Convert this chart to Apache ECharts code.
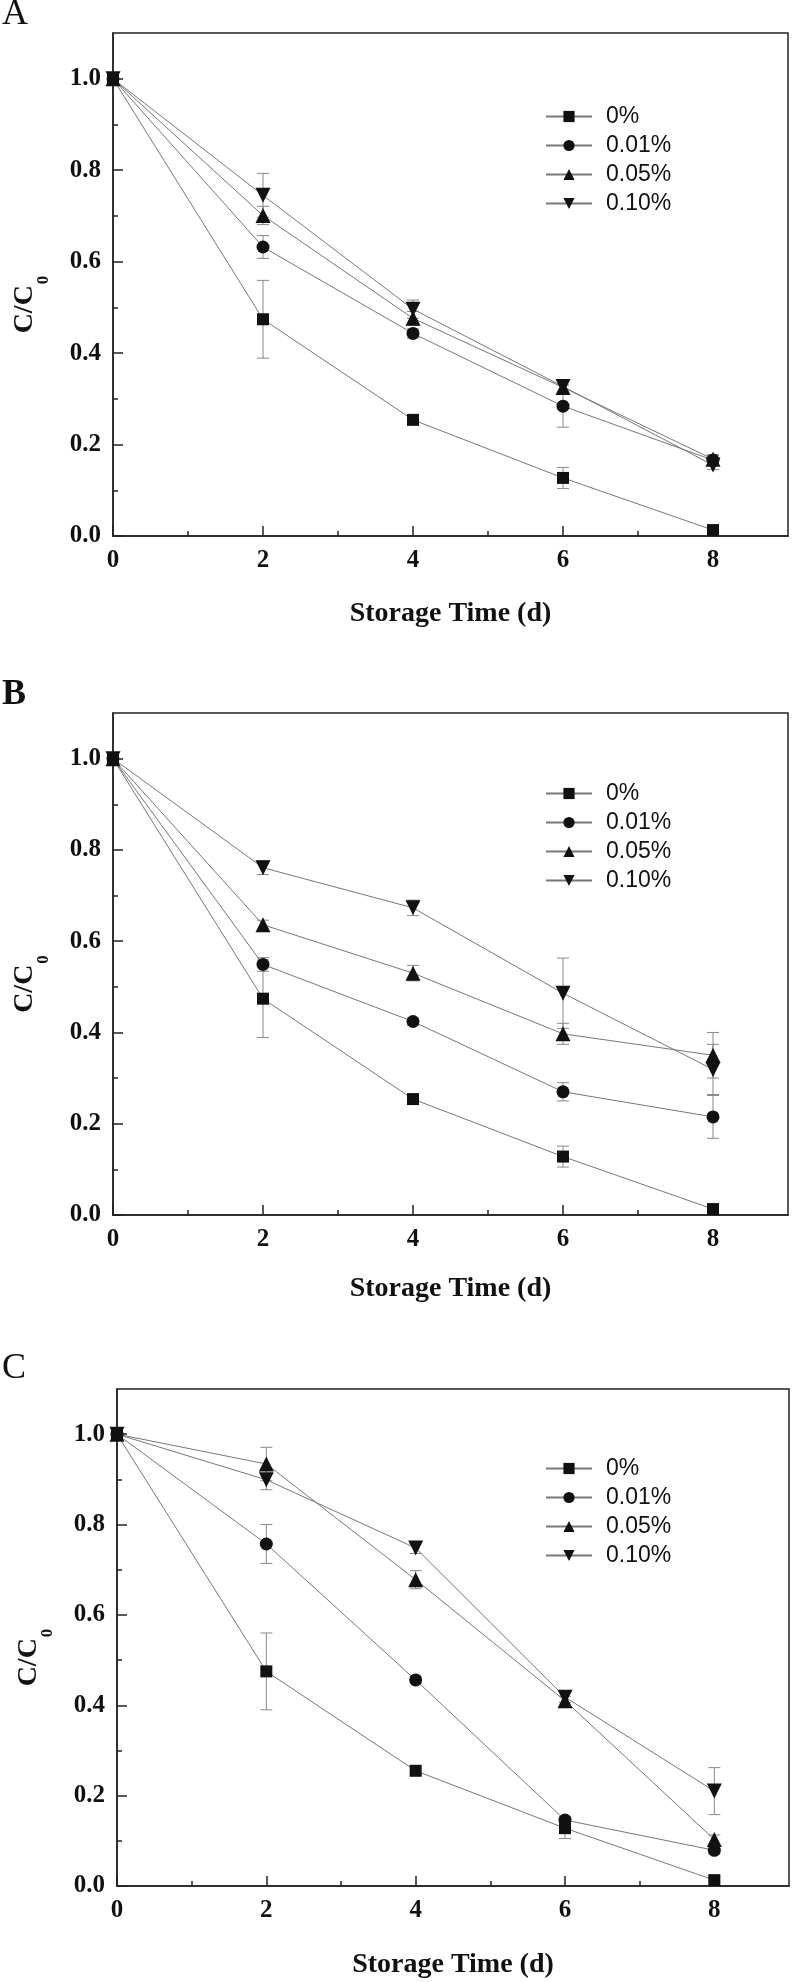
<!DOCTYPE html>
<html>
<head>
<meta charset="utf-8">
<script src="https://cdn.jsdelivr.net/npm/echarts@6/dist/echarts.min.js"></script>
<style>
html,body{margin:0;padding:0;background:#fff;}
#chart{width:792px;height:1982px;}
</style>
</head>
<body>
<div id="chart"></div>
<script>
// ---- data ----
const days = [0, 2, 4, 6, 8];
const seriesNames = ['0%', '0.01%', '0.05%', '0.10%'];
const panelLabels = ['A', 'B', 'C'];
const xTickValues = [0, 2, 4, 6, 8];
const xMinorTicks = [1, 3, 5, 7];
const yTickValues = [0, 0.2, 0.4, 0.6, 0.8, 1.0];
const yMinorTicks = [0.1, 0.3, 0.5, 0.7, 0.9];

// Panel A
const a0 = [1.0, 0.474, 0.254, 0.127, 0.013];
const a0Err = [0.005, 0.085, 0.01, 0.023, 0.005];
const a001 = [1.0, 0.632, 0.443, 0.284, 0.166];
const a001Err = [0.005, 0.025, 0.01, 0.046, 0.01];
const a005 = [1.0, 0.701, 0.476, 0.325, 0.168];
const a005Err = [0.005, 0.02, 0.015, 0.012, 0.01];
const a010 = [1.0, 0.745, 0.496, 0.327, 0.155];
const a010Err = [0.005, 0.048, 0.02, 0.012, 0.01];

// Panel B
const b0 = [1.0, 0.474, 0.254, 0.128, 0.013];
const b0Err = [0.005, 0.085, 0.01, 0.023, 0.005];
const b001 = [1.0, 0.549, 0.424, 0.270, 0.215];
const b001Err = [0.005, 0.015, 0.008, 0.02, 0.047];
const b005 = [1.0, 0.636, 0.530, 0.397, 0.350];
const b005Err = [0.005, 0.01, 0.017, 0.023, 0.05];
const b010 = [1.0, 0.761, 0.673, 0.486, 0.319];
const b010Err = [0.005, 0.015, 0.017, 0.077, 0.055];

// Panel C
const c0 = [1.0, 0.475, 0.255, 0.128, 0.013];
const c0Err = [0.005, 0.085, 0.01, 0.023, 0.005];
const c001 = [1.0, 0.757, 0.456, 0.146, 0.079];
const c001Err = [0.005, 0.043, 0.008, 0.008, 0.008];
const c005 = [1.0, 0.934, 0.678, 0.410, 0.103];
const c005Err = [0.005, 0.037, 0.02, 0.01, 0.01];
const c010 = [1.0, 0.899, 0.748, 0.418, 0.210];
const c010Err = [0.005, 0.022, 0.012, 0.012, 0.052];

const panels = [
  {vals: [a0, a001, a005, a010], errs: [a0Err, a001Err, a005Err, a010Err]},
  {vals: [b0, b001, b005, b010], errs: [b0Err, b001Err, b005Err, b010Err]},
  {vals: [c0, c001, c005, c010], errs: [c0Err, c001Err, c005Err, c010Err]}
];

// ---- layout / style ----
const grids = [
  {left: 113, top: 33, width: 675, height: 503},
  {left: 113, top: 713, width: 675, height: 502},
  {left: 117, top: 1389, width: 672, height: 497}
];
const xNameGaps = [64, 60, 65];
const legendTops = [100, 777, 1452];
const labelYs = [15, 695, 1369];
const labelWeights = ['normal', 'bold', 'normal'];

const SERIF = '"Liberation Serif", "Times New Roman", serif';
const SANS = '"Liberation Sans", Arial, sans-serif';
const symbols = ['rect', 'circle', 'triangle', 'path://M0,0 L10,0 L5,9 Z'];
const symbolSizes = [12, 13, 15, 15];

const option = {
  backgroundColor: '#fff',
  animation: false,
  grid: [], xAxis: [], yAxis: [], series: [], legend: [], graphic: []
};

function errRender(params, api) {
  const x = api.value(0), lo = api.value(1), hi = api.value(2);
  const pl = api.coord([x, lo]);
  const ph = api.coord([x, hi]);
  const w = 6;
  const st = {stroke: '#888', lineWidth: 1};
  return {
    type: 'group',
    children: [
      {type: 'line', shape: {x1: pl[0], y1: pl[1], x2: ph[0], y2: ph[1]}, style: st},
      {type: 'line', shape: {x1: pl[0] - w, y1: pl[1], x2: pl[0] + w, y2: pl[1]}, style: st},
      {type: 'line', shape: {x1: ph[0] - w, y1: ph[1], x2: ph[0] + w, y2: ph[1]}, style: st}
    ]
  };
}

panels.forEach((p, i) => {
  option.grid.push(Object.assign({show: true, borderColor: '#222', borderWidth: 1.5}, grids[i]));
  const labelStyle = {fontFamily: SERIF, fontWeight: 'bold', fontSize: 25, color: '#111'};
  // main x
  option.xAxis.push({
    type: 'value', gridIndex: i, position: 'bottom', min: 0, max: 9, interval: 2,
    axisLine: {show: true, lineStyle: {color: '#222', width: 1.5}},
    axisTick: {show: true, inside: true, length: 10, customValues: xTickValues, lineStyle: {color: '#222', width: 1.5}},
    axisLabel: Object.assign({customValues: xTickValues, margin: 12}, labelStyle),
    splitLine: {show: false},
    name: 'Storage Time (d)', nameLocation: 'middle', nameGap: xNameGaps[i],
    nameTextStyle: {fontFamily: SERIF, fontWeight: 'bold', fontSize: 28, color: '#111'}
  });
  // minor x
  option.xAxis.push({
    type: 'value', gridIndex: i, position: 'bottom', min: 0, max: 9, interval: 1,
    axisLine: {show: false},
    axisTick: {show: true, inside: true, length: 5, customValues: xMinorTicks, lineStyle: {color: '#222', width: 1.5}},
    axisLabel: {show: false},
    splitLine: {show: false}
  });
  // main y
  option.yAxis.push({
    type: 'value', gridIndex: i, position: 'left', min: 0, max: 1.1, interval: 0.2,
    axisLine: {show: true, lineStyle: {color: '#222', width: 1.5}},
    axisTick: {show: true, inside: true, length: 10, customValues: yTickValues, lineStyle: {color: '#222', width: 1.5}},
    axisLabel: Object.assign({customValues: yTickValues, margin: 12, formatter: v => v.toFixed(1)}, labelStyle),
    splitLine: {show: false},
    name: '{a|C/C}{b|0}', nameLocation: 'middle', nameGap: 74, nameRotate: 90,
    nameTextStyle: {
      padding: [0, 40, 0, 0],
      rich: {
        a: {fontFamily: SERIF, fontWeight: 'bold', fontSize: 28, lineHeight: 28, color: '#111', verticalAlign: 'top'},
        b: {fontFamily: SERIF, fontWeight: 'bold', fontSize: 17, lineHeight: 16, color: '#111', verticalAlign: 'top', padding: [24, 0, 0, 1]}
      }
    }
  });
  // minor y
  option.yAxis.push({
    type: 'value', gridIndex: i, position: 'left', min: 0, max: 1.1, interval: 0.1,
    axisLine: {show: false},
    axisTick: {show: true, inside: true, length: 5, customValues: yMinorTicks, lineStyle: {color: '#222', width: 1.5}},
    axisLabel: {show: false},
    splitLine: {show: false}
  });

  p.vals.forEach((vals, k) => {
    const errs = p.errs[k];
    option.series.push({
      type: 'custom', name: 'err' + i + '_' + k,
      xAxisIndex: 2 * i, yAxisIndex: 2 * i, z: 1,
      renderItem: errRender,
      encode: {x: 0, y: [1, 2]},
      data: days.map((d, j) => [d, vals[j] - errs[j], vals[j] + errs[j]])
    });
  });
  p.vals.forEach((vals, k) => {
    option.series.push({
      type: 'line', name: seriesNames[k],
      xAxisIndex: 2 * i, yAxisIndex: 2 * i, z: 3,
      symbol: symbols[k], symbolSize: symbolSizes[k],
      showAllSymbol: true,
      lineStyle: {color: '#777', width: 1},
      itemStyle: {color: '#111'},
      data: days.map((d, j) => [d, vals[j]])
    });
  });

  option.legend.push({
    data: seriesNames, orient: 'vertical', left: 540, top: legendTops[i],
    itemWidth: 46, itemHeight: 14, itemGap: 6,
    textStyle: {fontFamily: SANS, fontSize: 23, color: '#111', padding: [0, 0, 0, 9]}
  });

  option.graphic.push({
    type: 'text', x: 2, y: labelYs[i],
    style: {text: panelLabels[i], fontFamily: SERIF, fontSize: 36, fontWeight: labelWeights[i], fill: '#111', verticalAlign: 'middle'}
  });
});

const chart = echarts.init(document.getElementById('chart'), null, {renderer: 'canvas'});
chart.setOption(option);
</script>
</body>
</html>
